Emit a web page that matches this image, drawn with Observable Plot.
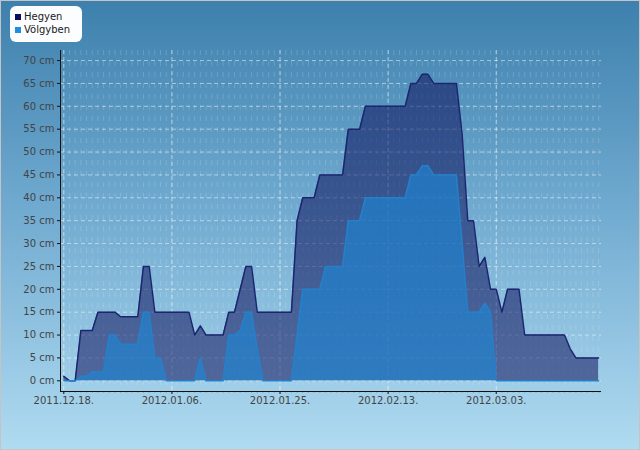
<!DOCTYPE html>
<html>
<head>
<meta charset="utf-8">
<script src="https://cdn.jsdelivr.net/npm/d3@7"></script>
<script src="https://cdn.jsdelivr.net/npm/@observablehq/plot@0.6"></script>
<style>
  html, body { margin: 0; padding: 0; }
  #wrap {
    position: relative; width: 640px; height: 450px; overflow: hidden;
    background: linear-gradient(to bottom, #3d80ad 0%, #6fa9cf 45%, #b0dbf1 100%);
    font-family: "DejaVu Sans", sans-serif;
  }
  #wrap svg { position: absolute; left: 0; top: 0; }
  #frame { position: absolute; left: 0; top: 0; width: 638px; height: 448px; border: 1px solid #c4c4c4; pointer-events: none; }
  #legend {
    position: absolute; left: 10px; top: 6px; width: 72px; height: 36px;
    background: #fbfdff; border-radius: 6px; font-size: 10px; color: #1a1a1a;
  }
  .item { position: absolute; left: 0; height: 13px; line-height: 13px; white-space: nowrap; }
  .sw { position: absolute; left: 5px; top: 4px; width: 6px; height: 6px; }
  .lab { position: absolute; left: 14px; top: 0; }
</style>
</head>
<body>
<div id="wrap">
  <div id="chart"></div>
  <div id="legend"></div>
  <div id="frame"></div>
</div>
<script>
// ---- data ----
const startDate = "2011-12-18";
const seriesNames = ["Hegyen", "Völgyben"];
const seriesColors = ["#0b0d5e", "#1e8fdc"];
const hegyen = [
  1, 0, 0, 11, 11, 11, 15, 15, 15, 15,
  14, 14, 14, 14, 25, 25, 15, 15, 15, 15,
  15, 15, 15, 10, 12, 10, 10, 10, 10, 15,
  15, 20, 25, 25, 15, 15, 15, 15, 15, 15,
  15, 35, 40, 40, 40, 45, 45, 45, 45, 45,
  55, 55, 55, 60, 60, 60, 60, 60, 60, 60,
  60, 65, 65, 67, 67, 65, 65, 65, 65, 65,
  54, 35, 35, 25, 27, 20, 20, 15, 20, 20,
  20, 10, 10, 10, 10, 10, 10, 10, 10, 7,
  5, 5, 5, 5, 5
];
const volgyben = [
  0, 0, 0, 1, 1, 2, 2, 2, 10, 10,
  8, 8, 8, 8, 15, 15, 5, 5, 0, 0,
  0, 0, 0, 0, 5, 0, 0, 0, 0, 10,
  10, 11, 15, 15, 7, 0, 0, 0, 0, 0,
  0, 10, 20, 20, 20, 20, 25, 25, 25, 25,
  35, 35, 35, 40, 40, 40, 40, 40, 40, 40,
  40, 45, 45, 47, 47, 45, 45, 45, 45, 45,
  30, 15, 15, 15, 17, 15, 0, 0, 0, 0,
  0, 0, 0, 0, 0, 0, 0, 0, 0, 0,
  0, 0, 0, 0, 0
];
const yTickValues = [0, 5, 10, 15, 20, 25, 30, 35, 40, 45, 50, 55, 60, 65, 70];
const xTickDates = ["2011-12-18", "2012-01-06", "2012-01-25", "2012-02-13", "2012-03-03"];

// ---- build ----
const parse = d3.utcParse("%Y-%m-%d");
const start = parse(startDate);
const DAY = 864e5;
const rows = hegyen.map((h, i) => ({date: d3.utcDay.offset(start, i), hegyen: h, volgyben: volgyben[i]}));
const dailyTicks = rows.map(r => r.date);
const majorTicks = xTickDates.map(parse);
const xDomain = [new Date(+start - 0.58 * DAY), new Date(+start + (hegyen.length - 1 + 0.5) * DAY)];

const chart = Plot.plot({
  width: 640, height: 450,
  marginLeft: 60, marginRight: 39, marginTop: 50, marginBottom: 59,
  x: {type: "utc", domain: xDomain},
  y: {domain: [-2.34, 72.2]},
  style: {background: "transparent", fontFamily: "DejaVu Sans, sans-serif", fontSize: "10px", color: "#444"},
  marks: [
    Plot.gridX({ticks: dailyTicks, stroke: "white", strokeOpacity: 0.16, strokeDasharray: "5,6"}),
    Plot.gridX({ticks: majorTicks, stroke: "white", strokeOpacity: 0.55, strokeDasharray: "4,3"}),
    Plot.gridY({ticks: yTickValues, stroke: "white", strokeOpacity: 0.5, strokeDasharray: "4,3"}),
    Plot.areaY(rows, {x: "date", y: "hegyen", fill: "#0a0b56", fillOpacity: 0.53}),
    Plot.areaY(rows, {x: "date", y: "volgyben", fill: "#1a88d8", fillOpacity: 0.6}),
    Plot.lineY(rows, {x: "date", y: "hegyen", stroke: "#1c2670", strokeWidth: 1.5}),
    Plot.lineY(rows, {x: "date", y: "volgyben", stroke: "#2580cc", strokeWidth: 1.5}),
    Plot.axisX({ticks: dailyTicks, tickFormat: () => "", tickSize: 2, stroke: "#9aa", label: null}),
    Plot.axisX({ticks: majorTicks, tickFormat: d3.utcFormat("%Y.%m.%d."), tickSize: 3, tickPadding: 2, stroke: "#111", fill: "#444", fontSize: 10, label: null}),
    Plot.axisY({ticks: yTickValues, tickFormat: d => `${d} cm`, tickSize: 3, tickPadding: 3, stroke: "#111", fill: "#444", fontSize: 10, label: null}),
    Plot.ruleX([xDomain[0]], {stroke: "#111"}),
    Plot.ruleY([-2.34], {stroke: "#111"})
  ]
});
document.getElementById("chart").appendChild(chart);

// legend
const legend = document.getElementById("legend");
seriesNames.forEach((name, i) => {
  const it = document.createElement("div");
  it.className = "item";
  it.style.top = (4 + i * 13) + "px";
  it.innerHTML = `<span class="sw" style="background:${seriesColors[i]}"></span><span class="lab">${name}</span>`;
  legend.appendChild(it);
});
</script>
</body>
</html>
